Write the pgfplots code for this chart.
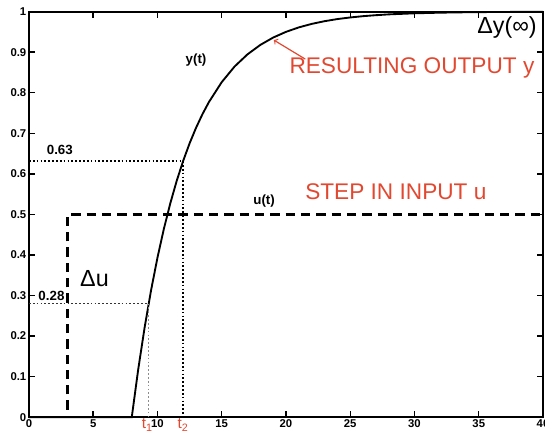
\documentclass[border=0pt]{standalone}
\usepackage{pgfplots}
\pgfplotsset{compat=1.18}
\usepackage{fontspec}
\setmainfont{Liberation Sans}
\definecolor{annred}{RGB}{226,72,48}
\begin{document}
\begin{tikzpicture}
\begin{axis}[
  scale only axis, width=386pt, height=304.5pt,
  xmin=0, xmax=40, ymin=0, ymax=1,
  xtick={0,5,10,15,20,25,30,35,40},
  ytick={0,0.1,0.2,0.3,0.4,0.5,0.6,0.7,0.8,0.9,1},
  yticklabels={0,0.1,0.2,0.3,0.4,0.5,0.6,0.7,0.8,0.9,1},
  xticklabels={0,5,10,15,20,25,30,35,40},
  tick align=inside, major tick length=4.5pt,
  tick style={line width=1.1pt, black},
  axis line style={line width=1.5pt},
  ticklabel style={font=\bfseries\fontsize{8.5}{9}\selectfont},
  xticklabel style={yshift=1.5pt},
  yticklabel style={xshift=1.5pt},
  /pgf/number format/assume math mode=true,
  clip=false,
]
% output y(t)
\addplot[black, line width=1.4pt] coordinates {
(0,0) (8,0) (8.5,0.1175) (9,0.2212) (9.5,0.3127) (10,0.3935) (10.5,0.4647)
(11,0.5276) (11.5,0.5831) (12,0.6321) (12.5,0.6753) (13,0.7135) (13.5,0.7472)
(14,0.7769) (15,0.8262) (16,0.8647) (17,0.8946) (18,0.9179) (19,0.9361)
(20,0.9502) (21,0.9612) (22,0.9698) (23,0.9765) (24,0.9817) (25,0.9857)
(26,0.9889) (27,0.9913) (28,0.9933) (30,0.9959) (32,0.9975) (34,0.9985)
(36,0.9991) (38,0.9994) (40,0.9997)};
% step input u(t)
\addplot[black, line width=1.9pt, dash pattern=on 7pt off 4.5pt] coordinates {
(0,0) (3,0) (3,0.5) (40,0.5)};
% 0.63 guides
\addplot[black, line width=1.4pt, dash pattern=on 1.3pt off 1.6pt] coordinates {
(0,0.632) (12,0.632) (12,0)};
% 0.28 guides
\addplot[black!80, line width=1.2pt, dash pattern=on 1.3pt off 1.6pt] coordinates {
(0,0.28) (9.31,0.28)};
\addplot[black!45, line width=1.2pt, dash pattern=on 1.3pt off 1.6pt] coordinates {
(9.31,0.28) (9.31,0)};
% labels
\node[font=\bfseries\fontsize{10}{11}\selectfont] at (axis cs:13.0,0.88) {y(t)};
\node[font=\bfseries\fontsize{10}{11}\selectfont] at (axis cs:18.3,0.534) {u(t)};
\node[font=\bfseries\fontsize{10}{11}\selectfont] at (axis cs:2.4,0.66) {0.63};
\node[font=\bfseries\fontsize{10}{11}\selectfont] at (axis cs:1.75,0.3) {0.28};
\node[annred, font=\fontsize{17}{19}\selectfont] at (axis cs:29.8,0.86) {RESULTING OUTPUT y};
\node[annred, font=\fontsize{17}{19}\selectfont] at (axis cs:28.55,0.557) {STEP IN INPUT u};
\node[black, font=\fontsize{17.5}{19}\selectfont] at (axis cs:37.2,0.962) {Δy(∞)};
\node[black, font=\fontsize{17.5}{19}\selectfont] at (axis cs:5.1,0.342) {Δu};
\draw[annred, line width=0.9pt, ->] (axis cs:21.5,0.883) -- (axis cs:19.05,0.93);
\node[annred, font=\fontsize{11.5}{12}\selectfont, anchor=north, inner sep=0.5pt] at (axis cs:9.2,0) [yshift=-0.5pt] {t\textsubscript{1}};
\node[annred, font=\fontsize{11.5}{12}\selectfont, anchor=north, inner sep=0.5pt] at (axis cs:12,0) [yshift=-0.5pt] {t\textsubscript{2}};
\end{axis}
\pgfresetboundingbox
\path ([shift={(-21.75pt,-14.5pt)}]current axis.south west) rectangle ([shift={(1.5pt,8.75pt)}]current axis.north east);
\end{tikzpicture}
\end{document}
